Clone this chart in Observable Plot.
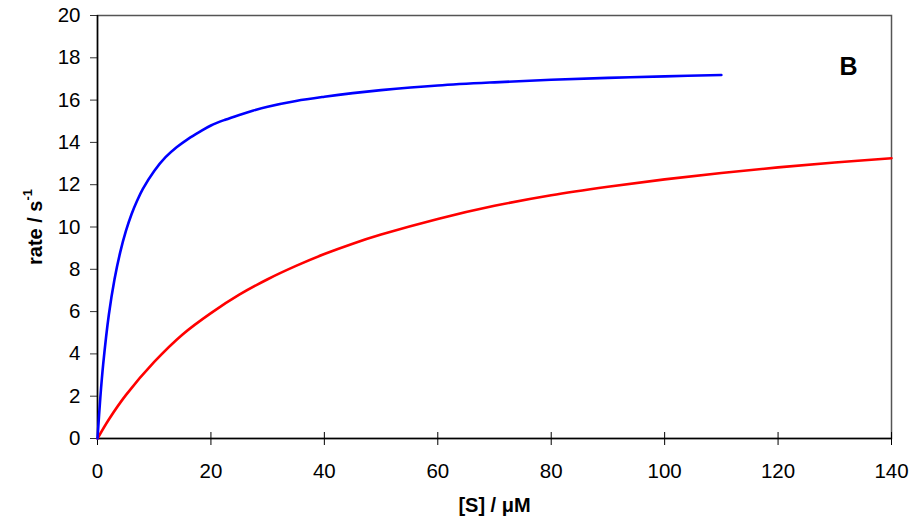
<!DOCTYPE html>
<html><head><meta charset="utf-8">
<script src="https://cdn.jsdelivr.net/npm/d3@7"></script>
<script src="https://cdn.jsdelivr.net/npm/@observablehq/plot@0.6"></script>
<style>
body{margin:0;background:#fff}
svg{font-family:"Liberation Sans",Arial,sans-serif}
</style>
</head><body><div id="chart"></div>
<script>
// Blue curve
const blueX = [0,0.5,1,2,3,4,5,6,7,8,10,12,14,16,18,20,22.5,25,27.5,30,35,40,45,50,60,70,80,90,100,110];
const blueY = [0,1.94,3.5,5.85,7.53,8.8,9.8,10.6,11.25,11.8,12.65,13.3,13.78,14.17,14.5,14.8,15.07,15.3,15.51,15.69,15.96,16.16,16.33,16.47,16.69,16.84,16.96,17.05,17.12,17.19];
// Red curve
const redX = [0,2,5,10,15,20,25,30,35,40,45,50,60,70,80,90,100,110,120,130,140];
const redY = [0,0.9,2.05,3.62,4.92,5.93,6.8,7.53,8.16,8.72,9.21,9.64,10.38,11.0,11.5,11.9,12.25,12.55,12.82,13.05,13.25];
const xTicks = [0,20,40,60,80,100,120,140];
const yTicks = [0,2,4,6,8,10,12,14,16,18,20];
const xTitle = "[S] / μM";
const yTitle = "rate / s";
const yTitleSup = "-1";
const panelLabel = "B";

const blue = blueX.map((x, i) => ({x, y: blueY[i]}));
const red = redX.map((x, i) => ({x, y: redY[i]}));

const plot = Plot.plot({
  width: 922, height: 519,
  marginLeft: 97, marginRight: 31, marginTop: 15, marginBottom: 81,
  x: {domain: [0, 140]},
  y: {domain: [0, 20]},
  style: {fontSize: "20px", fontFamily: "'Liberation Sans', Arial, sans-serif", color: "#000", background: "#fff"},
  marks: [
    Plot.frame({stroke: "#555", strokeWidth: 1.5}),
    Plot.axisY({ticks: yTicks, tickSize: 7, tickPadding: 10, label: null, fontSize: 20.5, stroke: "#333"}),
    Plot.axisX({ticks: xTicks, tickSize: 7, tickPadding: 18, label: null, fontSize: 20.5}),
    Plot.axisX({ticks: xTicks, tickSize: 6, dy: -6, text: null, label: null}),
    Plot.ruleX([0], {stroke: "#000", strokeWidth: 1.5}),
    Plot.ruleY([0], {stroke: "#000", strokeWidth: 1.5}),
    Plot.line(red, {x: "x", y: "y", stroke: "#ff0000", strokeWidth: 2.6, curve: "catmull-rom"}),
    Plot.line(blue, {x: "x", y: "y", stroke: "#0000ff", strokeWidth: 2.6, curve: "catmull-rom"}),
    Plot.text([panelLabel], {frameAnchor: "top-right", textAnchor: "end", lineAnchor: "middle", dx: -34, dy: 51, fontWeight: "bold", fontSize: 25}),
    Plot.text([xTitle], {frameAnchor: "bottom", lineAnchor: "middle", dy: 67, fontWeight: "bold", fontSize: 20})
  ]
});

const svg = d3.select(plot);
const t = svg.append("text")
  .attr("transform", "translate(37,227) rotate(-90)")
  .attr("text-anchor", "middle")
  .attr("dominant-baseline", "middle")
  .attr("font-weight", "bold")
  .attr("font-size", 20)
  .attr("fill", "#000");
t.append("tspan").text(yTitle);
t.append("tspan").attr("font-size", 13).attr("dy", -8).text(yTitleSup);

document.getElementById("chart").appendChild(plot);
</script>
</body></html>
